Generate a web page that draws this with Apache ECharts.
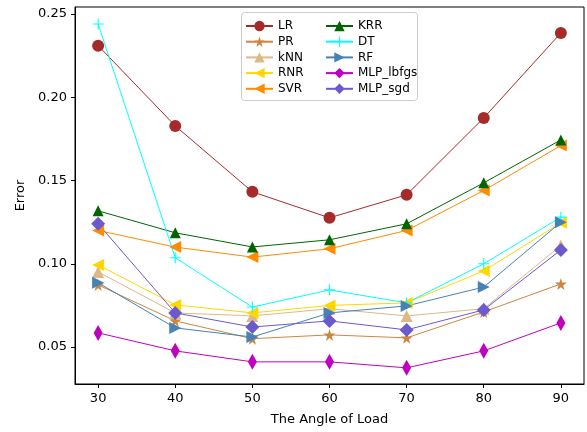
<!DOCTYPE html>
<html>
<head>
<meta charset="utf-8">
<script src="https://cdn.jsdelivr.net/npm/echarts@6/dist/echarts.min.js"></script>
<style>html,body{margin:0;padding:0;background:#fff}#chart{width:587px;height:432px}</style>
</head>
<body>
<div id="chart"></div>
<script>
const angles = [30, 40, 50, 60, 70, 80, 90];
const errorTicks = [0.05, 0.1, 0.15, 0.2, 0.25];
const lr = [0.231, 0.1828, 0.1432, 0.1276, 0.1414, 0.1876, 0.2386];
const pr = [0.0873, 0.0657, 0.055, 0.0573, 0.0555, 0.0711, 0.0879];
const knn = [0.0951, 0.0705, 0.0687, 0.073, 0.0687, 0.073, 0.111];
const rnr = [0.0993, 0.0753, 0.0705, 0.075, 0.0765, 0.0957, 0.1246];
const svr = [0.120, 0.110, 0.104, 0.109, 0.120, 0.144, 0.171];
const krr = [0.1318, 0.1186, 0.1101, 0.1144, 0.124, 0.1486, 0.1744];
const dt = [0.244, 0.1036, 0.074, 0.0843, 0.0765, 0.100, 0.128];
const rf = [0.0886, 0.0615, 0.056, 0.0705, 0.0747, 0.086, 0.125];
const mlpLbfgs = [0.0585, 0.0477, 0.0411, 0.0411, 0.0375, 0.0477, 0.0645];
const mlpSgd = [0.124, 0.0705, 0.062, 0.0657, 0.0603, 0.0723, 0.1083];

const starPath = 'path://M50,0 L61,35 L98,35 L68,57 L79,91 L50,70 L21,91 L32,57 L2,35 L39,35 Z';
const plusPath = 'path://M45,0 L55,0 L55,45 L100,45 L100,55 L55,55 L55,100 L45,100 L45,55 L0,55 L0,45 L45,45 Z';

const chart = echarts.init(document.getElementById('chart'));

function mk(name, data, color, symbol, size, rotate) {
  return {
    name: name,
    type: 'line',
    data: angles.map((a, i) => [a, data[i]]),
    symbol: symbol,
    symbolSize: size,
    symbolRotate: rotate || 0,
    showAllSymbol: true,
    lineStyle: { width: 1, color: color },
    itemStyle: { color: color, borderWidth: 0 },
    emphasis: { disabled: true },
    animation: false
  };
}

const series = [
  mk('LR', lr, '#a52a2a', 'circle', 12),
  mk('PR', pr, '#cd853f', starPath, 12),
  mk('kNN', knn, '#deb887', 'triangle', 12),
  mk('RNR', rnr, '#ffd700', 'triangle', 12, 90),
  mk('SVR', svr, '#ff8c00', 'triangle', 12, 90),
  mk('KRR', krr, '#006400', 'triangle', 11),
  mk('DT', dt, '#00ffff', plusPath, 11),
  mk('RF', rf, '#4682b4', 'triangle', 12, -90),
  mk('MLP_lbfgs', mlpLbfgs, '#bf00bf', 'diamond', [9, 16]),
  mk('MLP_sgd', mlpSgd, '#6a5acd', 'diamond', 14)
];

const legendBase = {
  orient: 'vertical',
  top: 15,
  itemGap: 3.7,
  itemWidth: 27,
  itemHeight: 13,
  textStyle: { fontFamily: 'DejaVu Sans', fontSize: 12, color: '#000' },
  selectedMode: false
};

chart.setOption({
  animation: false,
  textStyle: { fontFamily: 'DejaVu Sans' },
  graphic: [{
    type: 'rect',
    shape: { x: 241.5, y: 12.5, width: 176, height: 88, r: 3 },
    style: { fill: '#fff', stroke: '#ccc', lineWidth: 1 },
    z: 50
  }],
  legend: [
    Object.assign({}, legendBase, { left: 240, data: ['LR', 'PR', 'kNN', 'RNR', 'SVR'], z: 60 }),
    Object.assign({}, legendBase, { left: 320, data: ['KRR', 'DT', 'RF', 'MLP_lbfgs', 'MLP_sgd'], z: 60 })
  ],
  grid: {
    left: 75, right: 3, top: 7, bottom: 48,
    show: true, borderColor: '#000', borderWidth: 1
  },
  xAxis: {
    type: 'value',
    min: 27, max: 93,
    name: 'The Angle of Load',
    nameLocation: 'middle',
    nameGap: 29,
    nameTextStyle: { fontSize: 13, color: '#000' },
    axisLine: { lineStyle: { color: '#000' } },
    axisTick: { show: true, length: 4, lineStyle: { color: '#000' }, customValues: angles },
    axisLabel: { fontSize: 13, color: '#000', customValues: angles },
    splitLine: { show: false }
  },
  yAxis: {
    type: 'value',
    min: 0.0278, max: 0.2542,
    name: 'Error',
    nameLocation: 'middle',
    nameGap: 47,
    nameTextStyle: { fontSize: 13, color: '#000' },
    axisLine: { lineStyle: { color: '#000' } },
    axisTick: { show: true, length: 4, lineStyle: { color: '#000' }, customValues: errorTicks },
    axisLabel: {
      fontSize: 13, color: '#000',
      customValues: errorTicks,
      formatter: v => v.toFixed(2)
    },
    splitLine: { show: false }
  },
  series: series
});
</script>
</body>
</html>
